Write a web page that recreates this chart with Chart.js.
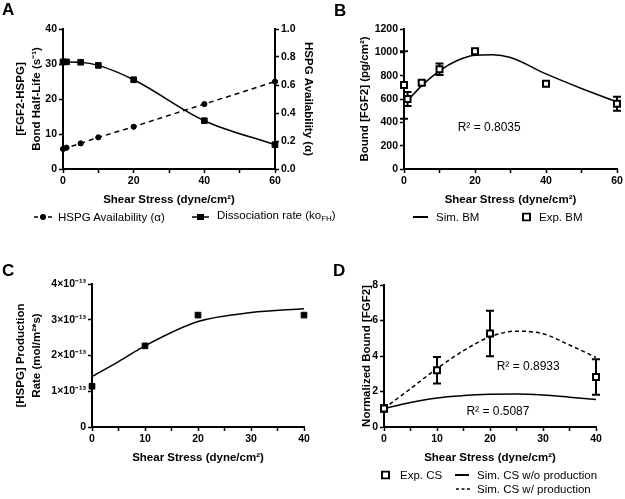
<!DOCTYPE html>
<html>
<head>
<meta charset="utf-8">
<script src="https://cdn.jsdelivr.net/npm/chart.js@4"></script>
<style>
  body { margin: 0; background: #fff; }
  #wrap { position: relative; width: 625px; height: 499px; overflow: hidden; font-family: 'Liberation Sans', Arial, Helvetica, sans-serif; color: #000; }
  canvas { position: absolute; }
  .tag { position: absolute; font-weight: bold; font-size: 17px; line-height: 17px; }
  .lg { position: absolute; font-size: 11.5px; line-height: 14px; white-space: nowrap; transform: translateY(-50%); }
  .sym { position: absolute; transform: translateY(-50%); }
  sub { font-size: 8px; vertical-align: -2px; }
</style>
</head>
<body>
<div id="wrap">
  <canvas id="cA" width="320" height="215" style="left:0;top:0"></canvas>
  <canvas id="cB" width="313" height="215" style="left:312px;top:0"></canvas>
  <canvas id="cC" width="315" height="230" style="left:0;top:240px"></canvas>
  <canvas id="cD" width="313" height="230" style="left:312px;top:240px"></canvas>

  <div class="tag" style="left:2px;top:1px">A</div>
  <div class="tag" style="left:334px;top:2px">B</div>
  <div class="tag" style="left:2px;top:262px">C</div>
  <div class="tag" style="left:333px;top:262px">D</div>

  <!-- legend A -->
  <svg class="sym" style="left:34px;top:217px" width="18" height="8"><line x1="0" y1="4" x2="18" y2="4" stroke="#000" stroke-width="1.5" stroke-dasharray="4,3"/><circle cx="9" cy="4" r="3" fill="#000"/></svg>
  <div class="lg" style="left:58px;top:217px">HSPG Availability (α)</div>
  <svg class="sym" style="left:192px;top:217px" width="17" height="8"><line x1="0" y1="4" x2="17" y2="4" stroke="#000" stroke-width="1.5"/><rect x="5" y="1" width="7" height="6" fill="#000"/></svg>
  <div class="lg" style="left:217px;top:217px">Dissociation rate (ko<sub>FH</sub>)</div>

  <!-- legend B -->
  <svg class="sym" style="left:413px;top:217px" width="15" height="4"><line x1="0" y1="2" x2="15" y2="2" stroke="#000" stroke-width="2"/></svg>
  <div class="lg" style="left:436px;top:217px">Sim. BM</div>
  <svg class="sym" style="left:522px;top:217px" width="9" height="9"><rect x="1" y="1" width="7" height="7" fill="#fff" stroke="#000" stroke-width="2"/></svg>
  <div class="lg" style="left:539px;top:217px">Exp. BM</div>

  <!-- legend D -->
  <svg class="sym" style="left:381px;top:475px" width="9" height="9"><rect x="1" y="1" width="7" height="7" fill="#fff" stroke="#000" stroke-width="2"/></svg>
  <div class="lg" style="left:400px;top:475px">Exp. CS</div>
  <svg class="sym" style="left:455px;top:475px" width="14" height="4"><line x1="0" y1="2" x2="14" y2="2" stroke="#000" stroke-width="2"/></svg>
  <div class="lg" style="left:477px;top:475px">Sim. CS w/o production</div>
  <svg class="sym" style="left:456px;top:489px" width="14" height="4"><line x1="0" y1="2" x2="14" y2="2" stroke="#000" stroke-width="1.5" stroke-dasharray="3,2.5"/></svg>
  <div class="lg" style="left:477px;top:489px">Sim. CS w/ production</div>
</div>

<script>
// ---- data ----
// A: bond half-life and HSPG availability vs shear stress
const shearA = [0, 1, 5, 10, 20, 40, 60];
const halfLife = [30.6, 30.6, 30.5, 29.6, 25.5, 13.8, 6.95];
const hspgAvail = [0.143, 0.152, 0.183, 0.226, 0.302, 0.464, 0.624];

// B: bound FGF2, experiment (with error) and simulation
const shearB = [0, 1, 5, 10, 20, 40, 60];
const expBM = [720, 600, 740, 855, 1010, 730, 560];
const expBMErr = [290, 60, 15, 50, 15, 15, 60];
const simShearB = [1, 5, 10, 15, 20, 25, 30, 40, 50, 60];
const simBM = [585, 715, 842, 930, 975, 980, 955, 815, 690, 575];

// C: HSPG production rate
const shearC = [0, 10, 20, 40];
const prodRate = [1.14e-13, 2.27e-13, 3.13e-13, 3.13e-13];
const simShearC = [0, 5, 10, 20, 30, 40];
const simProd = [1.41e-13, 1.83e-13, 2.27e-13, 2.95e-13, 3.20e-13, 3.31e-13];

// D: normalized bound FGF2
const shearD = [0, 10, 20, 40];
const expCS = [1.04, 3.2, 5.27, 2.82];
const expCSErr = [0.18, 0.75, 1.28, 1.0];
const simShearD = [0, 5, 10, 15, 20, 25, 30, 35, 40];
const simWithProd = [1.04, 2.16, 3.29, 4.3, 5.08, 5.4, 5.25, 4.62, 3.92];
const simNoProd = [1.04, 1.38, 1.64, 1.77, 1.84, 1.86, 1.8, 1.68, 1.55];

const xyOf = (xs, ys) => xs.map((x, i) => ({ x, y: ys[i] }));

Chart.defaults.font.family = "'Liberation Sans', Arial, Helvetica, sans-serif";
Chart.defaults.color = '#000';
Chart.defaults.animation = false;

function axis({ pos, min, max, step, title, pad, size, label }) {
  return {
    type: 'linear', position: pos, min, max,
    ticks: { stepSize: step, autoSkip: false, maxRotation: 0, padding: 2, color: '#000',
      font: { size: 10.5, weight: 'bold' }, callback: label || ((v) => v) },
    grid: { drawOnChartArea: false, tickLength: 4, tickWidth: 1.5, tickColor: '#000' },
    border: { color: '#000', width: 2 },
    title: { display: true, text: title, color: '#000',
      font: { size: 11.5, weight: 'bold', lineHeight: 1.4 }, padding: { top: pad, bottom: pad } },
    afterFit(s) {
      if (s.isHorizontal()) s.height = size; else s.width = size;
    },
  };
}

// vertical error bars through the chart's scales
const errorBars = {
  id: 'errorBars',
  beforeDatasetsDraw(chart, args, opts) {
    if (!opts.xs) return;
    const { ctx, scales: { x, y } } = chart;
    ctx.save();
    ctx.strokeStyle = '#000';
    ctx.lineWidth = 2;
    opts.xs.forEach((xv, i) => {
      const px = x.getPixelForValue(xv);
      const top = y.getPixelForValue(opts.ys[i] + opts.err[i]);
      const bot = y.getPixelForValue(opts.ys[i] - opts.err[i]);
      ctx.beginPath();
      ctx.moveTo(px, top); ctx.lineTo(px, bot);
      ctx.moveTo(px - 4, top); ctx.lineTo(px + 4, top);
      ctx.moveTo(px - 4, bot); ctx.lineTo(px + 4, bot);
      ctx.stroke();
    });
    ctx.restore();
  },
};

// R² notes placed in data coordinates
const notes = {
  id: 'notes',
  afterDatasetsDraw(chart, args, opts) {
    if (!opts.items) return;
    const { ctx, scales: { x, y } } = chart;
    ctx.save();
    ctx.fillStyle = '#000';
    ctx.font = "12px 'Liberation Sans', Arial, sans-serif";
    ctx.textAlign = 'center';
    ctx.textBaseline = 'middle';
    for (const n of opts.items) ctx.fillText(n.text, x.getPixelForValue(n.x), y.getPixelForValue(n.y));
    ctx.restore();
  },
};

const every = (k) => (v) => (Math.abs(v % k) < 1e-9 ? v : '');

// ---- A ----
new Chart(document.getElementById('cA'), {
  type: 'scatter',
  data: {
    datasets: [
      { data: xyOf(shearA, halfLife), yAxisID: 'y', showLine: true, cubicInterpolationMode: 'monotone',
        borderColor: '#000', borderWidth: 1.5, pointStyle: 'rect', pointRadius: 4, pointBackgroundColor: '#000',
        pointBorderWidth: 1, clip: false },
      { data: xyOf(shearA, hspgAvail), yAxisID: 'y2', showLine: true, borderDash: [5, 4],
        borderColor: '#000', borderWidth: 1.5, pointStyle: 'circle', pointRadius: 2.6, pointBackgroundColor: '#000',
        pointBorderWidth: 1, clip: false },
    ],
  },
  options: {
    responsive: false,
    layout: { padding: { top: 29, left: 0, right: 0, bottom: 0 } },
    plugins: { legend: { display: false }, tooltip: { enabled: false } },
    scales: {
      x: axis({ pos: 'bottom', min: 0, max: 60, step: 10, title: 'Shear Stress (dyne/cm²)', pad: 7, size: 46, label: every(20) }),
      y: axis({ pos: 'left', min: 0, max: 40, step: 10, title: ['[FGF2-HSPG]', 'Bond Half-Life (s⁻¹)'], pad: 13, size: 63 }),
      y2: axis({ pos: 'right', min: 0, max: 1, step: 0.2, title: 'HSPG Availability (α)', pad: 4, size: 45,
        label: (v) => v.toFixed(1) }),
    },
  },
});

// ---- B ----
new Chart(document.getElementById('cB'), {
  type: 'scatter',
  data: {
    datasets: [
      { data: xyOf(shearB, expBM), pointStyle: 'rect', pointRadius: 4.2, pointBackgroundColor: '#fff',
        pointBorderColor: '#000', pointBorderWidth: 2, clip: false },
      { data: xyOf(simShearB, simBM), showLine: true, cubicInterpolationMode: 'monotone',
        borderColor: '#000', borderWidth: 1.5, pointRadius: 0 },
    ],
  },
  options: {
    responsive: false,
    layout: { padding: { top: 29, left: 0, right: 8, bottom: 0 } },
    plugins: {
      legend: { display: false }, tooltip: { enabled: false },
      errorBars: { xs: shearB, ys: expBM, err: expBMErr },
      notes: { items: [{ x: 24, y: 351, text: 'R² = 0.8035' }] },
    },
    scales: {
      x: axis({ pos: 'bottom', min: 0, max: 60, step: 10, title: 'Shear Stress (dyne/cm²)', pad: 7, size: 46, label: every(20) }),
      y: axis({ pos: 'left', min: 0, max: 1200, step: 200, title: 'Bound [FGF2] (pg/cm²)', pad: 45, size: 92 }),
    },
  },
  plugins: [errorBars, notes],
});

// ---- C ----
new Chart(document.getElementById('cC'), {
  type: 'scatter',
  data: {
    datasets: [
      { data: xyOf(shearC, prodRate), pointStyle: 'rect', pointRadius: 4, pointBackgroundColor: '#000',
        pointBorderColor: '#000', pointBorderWidth: 1, clip: false },
      { data: xyOf(simShearC, simProd), showLine: true, cubicInterpolationMode: 'monotone',
        borderColor: '#000', borderWidth: 1.5, pointRadius: 0 },
    ],
  },
  options: {
    responsive: false,
    layout: { padding: { top: 44, left: 0, right: 11, bottom: 0 } },
    plugins: { legend: { display: false }, tooltip: { enabled: false } },
    scales: {
      x: axis({ pos: 'bottom', min: 0, max: 40, step: 5, title: 'Shear Stress (dyne/cm²)', pad: 4, size: 43, label: every(10) }),
      y: axis({ pos: 'left', min: 0, max: 4e-13, step: 1e-13, title: ['[HSPG] Production', 'Rate (mol/m²*s)'], pad: 12.5, size: 92,
        label: (v) => { const n = Math.round(v / 1e-13); return n === 0 ? '0' : n + '×10⁻¹³'; } }),
    },
  },
});

// ---- D ----
new Chart(document.getElementById('cD'), {
  type: 'scatter',
  data: {
    datasets: [
      { data: xyOf(shearD, expCS), pointStyle: 'rect', pointRadius: 4.2, pointBackgroundColor: '#fff',
        pointBorderColor: '#000', pointBorderWidth: 2, clip: false },
      { data: xyOf(simShearD, simWithProd), showLine: true, cubicInterpolationMode: 'monotone', borderDash: [4, 3],
        borderColor: '#000', borderWidth: 1.5, pointRadius: 0 },
      { data: xyOf(simShearD, simNoProd), showLine: true, cubicInterpolationMode: 'monotone',
        borderColor: '#000', borderWidth: 1.5, pointRadius: 0 },
    ],
  },
  options: {
    responsive: false,
    layout: { padding: { top: 45, left: 0, right: 29, bottom: 0 } },
    plugins: {
      legend: { display: false }, tooltip: { enabled: false },
      errorBars: { xs: shearD, ys: expCS, err: expCSErr },
      notes: { items: [{ x: 27.2, y: 3.38, text: 'R² = 0.8933' }, { x: 21.5, y: 0.85, text: 'R² = 0.5087' }] },
    },
    scales: {
      x: axis({ pos: 'bottom', min: 0, max: 40, step: 5, title: 'Shear Stress (dyne/cm²)', pad: 4, size: 43, label: every(10) }),
      y: axis({ pos: 'left', min: 0, max: 8, step: 2, title: 'Normalized Bound [FGF2]', pad: 47, size: 72 }),
    },
  },
  plugins: [errorBars, notes],
});
</script>
</body>
</html>
